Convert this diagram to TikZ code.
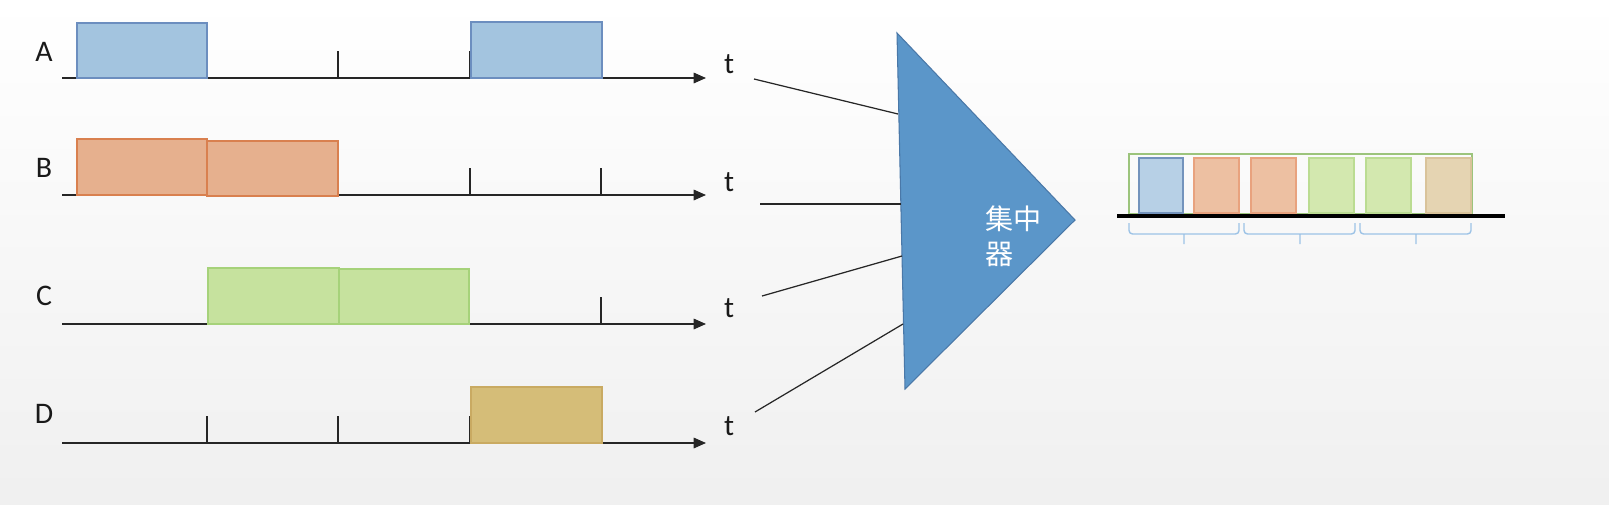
\documentclass[tikz,border=0pt]{standalone}
\usepackage{fontspec}
\setmainfont{Carlito}
\newfontfamily\cjk{Noto Sans CJK SC}
\usetikzlibrary{arrows.meta}

\definecolor{sigblue}{HTML}{A3C4DF}
\definecolor{sigblueD}{HTML}{6C8EBF}
\definecolor{sigorange}{HTML}{E6B08E}
\definecolor{sigorangeD}{HTML}{D9804F}
\definecolor{siggreen}{HTML}{C6E29E}
\definecolor{siggreenD}{HTML}{A6D27A}
\definecolor{sigtan}{HTML}{D5BD78}
\definecolor{sigtanD}{HTML}{C9AA62}
\definecolor{slotblue}{HTML}{B7D0E6}
\definecolor{slotblueD}{HTML}{7393BC}
\definecolor{slotorange}{HTML}{EDC0A2}
\definecolor{slotorangeD}{HTML}{E8A27E}
\definecolor{slotgreen}{HTML}{D3E8AF}
\definecolor{slotgreenD}{HTML}{BBDC92}
\definecolor{slottan}{HTML}{E5D4B2}
\definecolor{slottanD}{HTML}{D9C39A}
\definecolor{framegreen}{HTML}{9CC47C}
\definecolor{hubblue}{HTML}{5B96C9}
\definecolor{hubblueD}{HTML}{4A78A8}
\definecolor{bracecol}{HTML}{9DC3E6}

\begin{document}
\begin{tikzpicture}[x=0.02cm,y=-0.02cm,
    axis/.style={line width=0.8pt,draw=black!85,-{Triangle[width=6pt,length=7pt]}},
    tick/.style={line width=0.8pt,draw=black!85},
    lbl/.style={font=\fontsize{17}{19}\selectfont,text=black!90,inner sep=0pt},
    feed/.style={line width=0.7pt,draw=black!85},
    ablk/.style={fill=sigblue,draw=sigblueD,line width=0.6pt},
    bblk/.style={fill=sigorange,draw=sigorangeD,line width=0.6pt},
    cblk/.style={fill=siggreen,draw=siggreenD,line width=0.6pt},
    dblk/.style={fill=sigtan,draw=sigtanD,line width=0.6pt},
    hub/.style={fill=hubblue,draw=hubblueD,line width=0.6pt},
    hubtext/.style={font=\cjk\fontsize{16}{20}\selectfont,text=white,align=left,inner sep=0pt},
    slot/.style={line width=0.6pt},
    bracket/.style={draw=bracecol,line width=0.8pt,rounded corners=2pt}]
  \path[use as bounding box] (0,0) rectangle (1609,504);
  \shade[top color=white,bottom color=black!6] (0,0) rectangle (1609,504);

  % time axes
  \coordinate (a0) at (62,78);  \coordinate (a1) at (706,78);
  \coordinate (b0) at (62,195); \coordinate (b1) at (706,195);
  \coordinate (c0) at (62,324); \coordinate (c1) at (706,324);
  \coordinate (d0) at (62,443); \coordinate (d1) at (706,443);
  \draw[axis] (a0) -- (a1);
  \draw[axis] (b0) -- (b1);
  \draw[axis] (c0) -- (c1);
  \draw[axis] (d0) -- (d1);

  \draw[tick] (207,78) -- +(0,-27) (338,78) -- +(0,-27) (470,78) -- +(0,-27) (601,78) -- +(0,-27);
  \draw[tick] (207,195) -- +(0,-27) (338,195) -- +(0,-27) (470,195) -- +(0,-27) (601,195) -- +(0,-27);
  \draw[tick] (208,324) -- +(0,-27) (469,324) -- +(0,-27) (601,324) -- +(0,-27);
  \draw[tick] (207,443) -- +(0,-27) (338,443) -- +(0,-27) (470,443) -- +(0,-27);

  % signals
  \draw[ablk] (77,78) rectangle (207,23);
  \draw[ablk] (471,78) rectangle (602,22);
  \draw[bblk] (77,195) rectangle (207,139);
  \draw[bblk] (207,196) rectangle (338,141);
  \draw[cblk] (208,324) rectangle (339,268);
  \draw[cblk] (339,324) rectangle (469,269);
  \draw[dblk] (471,443) rectangle (602,387);

  \node[lbl] (lA) at (44,52) {A};
  \node[lbl] (lB) at (44,168) {B};
  \node[lbl] (lC) at (44,296) {C};
  \node[lbl] (lD) at (44,414) {D};
  \node[lbl] (tA) at (729,64) {t};
  \node[lbl] (tB) at (729,182) {t};
  \node[lbl] (tC) at (729,308) {t};
  \node[lbl] (tD) at (729,426) {t};

  % concentrator
  \coordinate (hubtop) at (897,33);
  \coordinate (hubtip) at (1075,220);
  \coordinate (hubbot) at (905,389);
  \draw[hub] (hubtop) -- (hubtip) -- (hubbot) -- cycle;
  \node[hubtext,anchor=west] (hubname) at (985,236) {集中\\器};

  \coordinate (inA) at (754,79);  \coordinate (pA) at (898,114);
  \coordinate (inB) at (760,204); \coordinate (pB) at (901,204);
  \coordinate (inC) at (762,296); \coordinate (pC) at (902,256);
  \coordinate (inD) at (755,412); \coordinate (pD) at (903,324);
  \draw[feed] (inA) -- (pA);
  \draw[feed] (inB) -- (pB);
  \draw[feed] (inC) -- (pC);
  \draw[feed] (inD) -- (pD);

  % multiplexed frame
  \draw[draw=framegreen,line width=0.7pt] (1129,154) rectangle (1472,214);
  \draw[slot,fill=slotblue,draw=slotblueD] (1139,158) rectangle (1183,213);
  \draw[slot,fill=slotorange,draw=slotorangeD] (1194,158) rectangle (1239,213);
  \draw[slot,fill=slotorange,draw=slotorangeD] (1251,158) rectangle (1296,213);
  \draw[slot,fill=slotgreen,draw=slotgreenD] (1309,158) rectangle (1354,213);
  \draw[slot,fill=slotgreen,draw=slotgreenD] (1366,158) rectangle (1411,213);
  \draw[slot,fill=slottan,draw=slottanD] (1426,158) rectangle (1471,213);
  \coordinate (bl0) at (1117,216); \coordinate (bl1) at (1505,216);
  \draw[line width=2.2pt] (bl0) -- (bl1);

  \draw[bracket] (1129,223) |- (1184,234) -| (1239,223) (1184,234) -- (1184,244);
  \draw[bracket] (1244,223) |- (1300,234) -| (1355,223) (1300,234) -- (1300,244);
  \draw[bracket] (1360,223) |- (1416,234) -| (1471,223) (1416,234) -- (1416,244);
\end{tikzpicture}
\end{document}
